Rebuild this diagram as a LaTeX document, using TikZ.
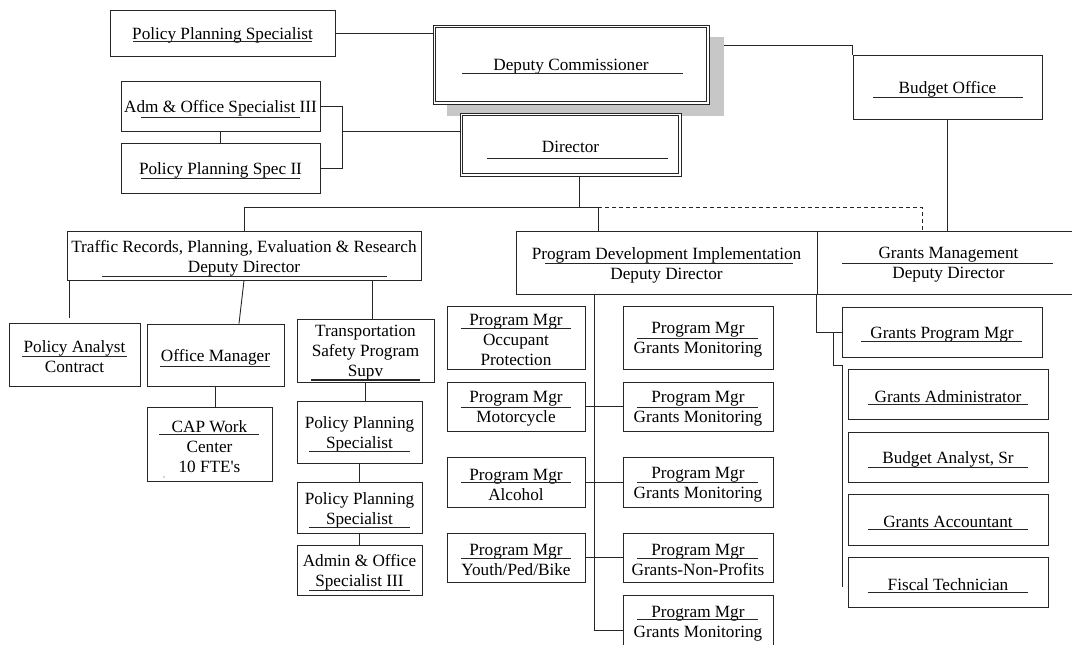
\documentclass[tikz,border=0pt]{standalone}
\usepackage{fontspec}
\setmainfont{Liberation Serif}
\usetikzlibrary{calc}
\pgfdeclarelayer{back}
\pgfdeclarelayer{shade}
\pgfsetlayers{back,shade,main}
\tikzset{
  box/.style={draw=black!85, line width=0.9pt, fill=white, inner sep=0pt},
  boxtext/.style={inner sep=0pt, align=center, font=\fontsize{17.2}{20}\selectfont},
  uline/.style={line width=0.9pt, draw=black!85},
  link/.style={line width=0.9pt, draw=black!85},
  dashlink/.style={link, dash pattern=on 4pt off 3pt},
  shadowfill/.style={fill=black!22},
}
\newcommand\obox[6]{%
  \pgfmathsetmacro\obw{#4-#2}%
  \pgfmathsetmacro\obh{#5-#3}%
  \node[box, minimum width=\obw pt, minimum height=\obh pt] (#1) at ({(#2+#4)/2},{(#3+#5)/2}) {};
  \node[boxtext] (#1-t) at ([yshift=-2.5pt]#1.center) {#6};}
\newcommand\ulin[3]{\draw[uline] (#1,#3) -- (#2,#3);}
\begin{document}
\begin{tikzpicture}[x=1pt,y=-1pt]
\useasboundingbox (0,0) rectangle (1072,645);

% top level
\obox{pps1}{110}{10}{335}{56}{Policy Planning Specialist}
\ulin{133}{312}{41}
\obox{dc}{433}{25}{709}{104}{Deputy Commissioner}
\draw[link] ($(dc.north west)+(3,3)$) rectangle ($(dc.south east)+(-3,-3)$);
\ulin{462}{683}{73}
\obox{budget}{853}{55}{1042}{119}{Budget Office}
\ulin{873}{1023}{97}
\obox{adm}{121}{81}{320}{131}{Adm \& Office Specialist III}
\ulin{141}{300}{117}
\obox{pps2}{121}{143}{320}{193}{Policy Planning Spec II}
\ulin{141}{300}{178}
\obox{dir}{460}{113}{681}{176}{Director}
\draw[link] ($(dir.north west)+(3,3)$) rectangle ($(dir.south east)+(-3,-3)$);
\ulin{487}{668}{158}

% deputy directors
\obox{trd}{67}{231}{421}{280}{Traffic Records, Planning, Evaluation \& Research\\Deputy Director}
\ulin{102}{387}{276}
\obox{pdi}{516}{231}{817}{294}{Program Development Implementation\\Deputy Director}
\ulin{545}{793}{263}
\obox{gmd}{817}{231}{1080}{294}{Grants Management\\Deputy Director}
\ulin{842}{1053}{263}

% traffic branch
\obox{pa}{9}{323}{140}{386}{Policy Analyst\\Contract}
\ulin{22}{127}{356}
\obox{om}{147}{324}{284}{386}{Office Manager}
\ulin{160}{270}{366}
\obox{tsp}{297}{319}{434}{382}{Transportation\\Safety Program\\Supv}
\draw[uline, line width=1.6pt] (311,380) -- (420,380);
\obox{cap}{147}{407}{272}{481}{CAP Work\\Center\\10 FTE\textquotesingle s}
\ulin{159}{259}{434}
\fill[black!70] (164,477) circle (0.6);
\obox{ppsa}{297}{401}{422}{463}{Policy Planning\\Specialist}
\ulin{309}{410}{451}
\obox{ppsb}{297}{482}{422}{533}{Policy Planning\\Specialist}
\ulin{309}{410}{527}
\obox{aos}{297}{545}{422}{595}{Admin \& Office\\Specialist III}
\ulin{309}{410}{590}

% program development branch
\obox{pm1}{447}{306}{585}{369}{Program Mgr\\Occupant\\Protection}
\ulin{461}{571}{328}
\obox{pm2}{447}{382}{585}{431}{Program Mgr\\Motorcycle}
\ulin{461}{571}{407}
\obox{pm3}{447}{457}{585}{507}{Program Mgr\\Alcohol}
\ulin{461}{571}{482}
\obox{pm4}{447}{533}{585}{582}{Program Mgr\\Youth/Ped/Bike}
\ulin{461}{571}{558}
\obox{gm1}{623}{306}{773}{369}{Program Mgr\\Grants Monitoring}
\ulin{637}{758}{338}
\obox{gm2}{623}{382}{773}{431}{Program Mgr\\Grants Monitoring}
\ulin{637}{758}{407}
\obox{gm3}{623}{457}{773}{507}{Program Mgr\\Grants Monitoring}
\ulin{637}{758}{482}
\obox{gnp}{623}{533}{773}{582}{Program Mgr\\Grants-Non-Profits}
\ulin{637}{758}{558}
\obox{gm5}{623}{595}{773}{648}{Program Mgr\\Grants Monitoring}
\ulin{637}{758}{619}

% grants branch
\obox{gpm}{842}{307}{1042}{357}{Grants Program Mgr}
\ulin{861}{1022}{341}
\obox{ga}{848}{369}{1048}{419}{Grants Administrator}
\ulin{868}{1028}{404}
\obox{ba}{848}{432}{1048}{482}{Budget Analyst, Sr}
\ulin{868}{1028}{467}
\obox{gac}{848}{494}{1048}{545}{Grants Accountant}
\ulin{868}{1028}{529}
\obox{ft}{848}{557}{1048}{607}{Fiscal Technician}
\ulin{868}{1028}{592}

% coordinates for connectors
\coordinate (brk) at (342,131);
\coordinate (busA) at (579,207);
\coordinate (busB) at (598,207);
\coordinate (dsh) at (922,207);
\coordinate (paTop) at (69,318);
\coordinate (spine) at (594,630);
\coordinate (gA) at (833,365);
\coordinate (gB) at (842,587);

\begin{pgfonlayer}{shade}
  \fill[shadowfill] ($(dc.north west)+(14,12)$) rectangle ($(dc.south east)+(15,12)$);
\end{pgfonlayer}

\begin{pgfonlayer}{back}
  \draw[link] (pps1.east) -- (pps1.east -| dc.west);
  \draw[link] ([yshift=19pt]dc.east) -| (budget.north west);
  \draw[link] (adm.east) -| (brk |- pps2.east) -- (pps2.east);
  \draw[link] (adm.south) -- (pps2.north);
  \draw[link] (brk) -- (brk -| dir.west);
  \draw[link] (busA |- dir.south) -- (busA);
  \draw[link] (trd.north) -- (trd.north |- busA) -- (busB) -- (busB |- pdi.north);
  \draw[dashlink] (busB) -- (dsh) -- (dsh |- gmd.north);
  \draw[link] (budget.south) -- (budget.south |- gmd.north);
  % traffic branch
  \draw[link] (paTop |- trd.south) -- (paTop);
  \draw[link] (trd.south) -- ([xshift=23.5pt]om.north);
  \draw[link] ([xshift=7pt]tsp.north |- trd.south) -- ([xshift=7pt]tsp.north);
  \draw[link] (om.south) -- (om.south |- cap.north);
  \draw[link] (tsp.south) -- (tsp.south |- ppsa.north);
  \draw[link] (ppsa.south) -- (ppsb.north);
  \draw[link] (ppsb.south) -- (aos.north);
  % program development branch
  \draw[link] (spine |- pdi.south) -- (spine) -- (spine -| gm5.west);
  \draw[link] (pm2.east) -- (gm2.west);
  \draw[link] (pm3.east) -- (gm3.west);
  \draw[link] (pm4.east) -- (gnp.west);
  % grants branch
  \draw[link] (gmd.south west) -- (gmd.south west |- gpm.west) -- (gpm.west);
  \draw[link] (gA |- gpm.west) -- (gA) -| (gB);
\end{pgfonlayer}
\end{tikzpicture}
\end{document}
